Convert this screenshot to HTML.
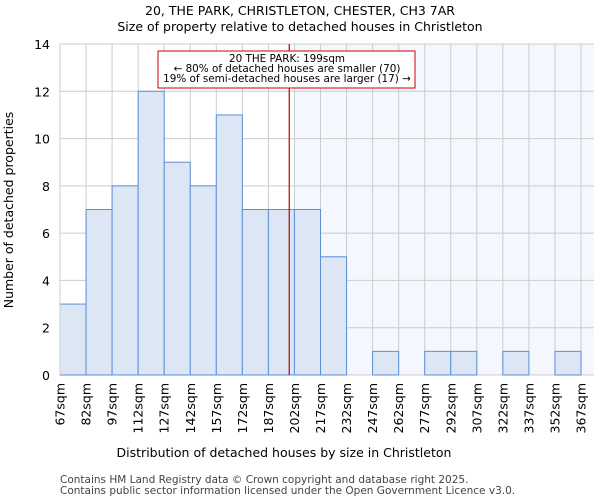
<!DOCTYPE html>
<html><head><meta charset="utf-8"><style>
body{margin:0;background:#fff;font-family:"DejaVu Sans","Liberation Sans",sans-serif;}
</style></head><body>
<svg id="c" width="600" height="500" xmlns="http://www.w3.org/2000/svg" font-family="DejaVu Sans, Liberation Sans, sans-serif">
<text x="300" y="15" text-anchor="middle" font-size="12.5">20, THE PARK, CHRISTLETON, CHESTER, CH3 7AR</text>
<text x="300" y="31" text-anchor="middle" font-size="12.5">Size of property relative to detached houses in Christleton</text>
<g id="plot"></g>
<text x="284" y="457" text-anchor="middle" font-size="12.5">Distribution of detached houses by size in Christleton</text>
<text transform="translate(13,210) rotate(-90)" text-anchor="middle" font-size="12.5">Number of detached properties</text>
<text x="60" y="483" font-size="10.5" fill="#444">Contains HM Land Registry data © Crown copyright and database right 2025.</text>
<text x="60" y="494" font-size="10.5" fill="#444">Contains public sector information licensed under the Open Government Licence v3.0.</text>
</svg>
<script>
const binStarts=[67,82,97,112,127,142,157,172,187,202,217,232,247,262,277,292,307,322,337,352];
const counts=[3,7,8,12,9,8,11,7,7,7,5,0,1,0,1,1,0,1,0,1];
const tickLabels=["67sqm","82sqm","97sqm","112sqm","127sqm","142sqm","157sqm","172sqm","187sqm","202sqm","217sqm","232sqm","247sqm","262sqm","277sqm","292sqm","307sqm","322sqm","337sqm","352sqm","367sqm"];
const yTicks=[0,2,4,6,8,10,12,14];
const propertySize=199;
const NS="http://www.w3.org/2000/svg";
const L=60,R=594,T=44,B=375,BW=26.05;
const x=v=>L+(v-67)/15*BW;
const y=v=>B-(v/14)*(B-T);
const g=document.getElementById('plot');
function mk(t,a){const e=document.createElementNS(NS,t);for(const k in a)e.setAttribute(k,a[k]);g.appendChild(e);return e;}
let e;
e=mk('rect',{x:x(202),y:T,width:R-x(202),height:B-T,fill:'#f4f7fd'});


yTicks.forEach(v=>{e=mk('line',{x1:L,x2:R,y1:y(v),y2:y(v),stroke:'#cccccc'});


e=mk('text',{x:L-10,y:y(v)+5,'text-anchor':'end','font-size':12.5});e.textContent=v;

});
tickLabels.forEach((t,i)=>{const xv=x(67+15*i);
e=mk('line',{x1:xv,x2:xv,y1:T,y2:B,stroke:'#cccccc'});


e=mk('text',{transform:`translate(${xv+4.5},${B+8}) rotate(-90)`,'text-anchor':'end','font-size':12.5});e.textContent=t;

});
binStarts.forEach((s,i)=>{if(!counts[i])return;
e=mk('rect',{x:x(s),y:y(counts[i]),width:BW,height:B-y(counts[i]),fill:'#dce6f4',stroke:'#5b8fd6','stroke-width':1});

});
e=mk('line',{x1:x(propertySize),x2:x(propertySize),y1:T,y2:B,stroke:'#bb0000','stroke-width':1.2});


e=mk('rect',{x:158,y:51,width:257,height:37,fill:'#fff',stroke:'#cc0000'});


[["20 THE PARK: 199sqm",62],["← 80% of detached houses are smaller (70)",72],["19% of semi-detached houses are larger (17) →",82]].forEach(([t,yy])=>{
e=mk('text',{x:287,y:yy,'text-anchor':'middle','font-size':10.4});e.textContent=t;

});
e=mk('line',{x1:L,x2:L,y1:T,y2:B,stroke:'#cccccc'});


</script>
</body></html>
